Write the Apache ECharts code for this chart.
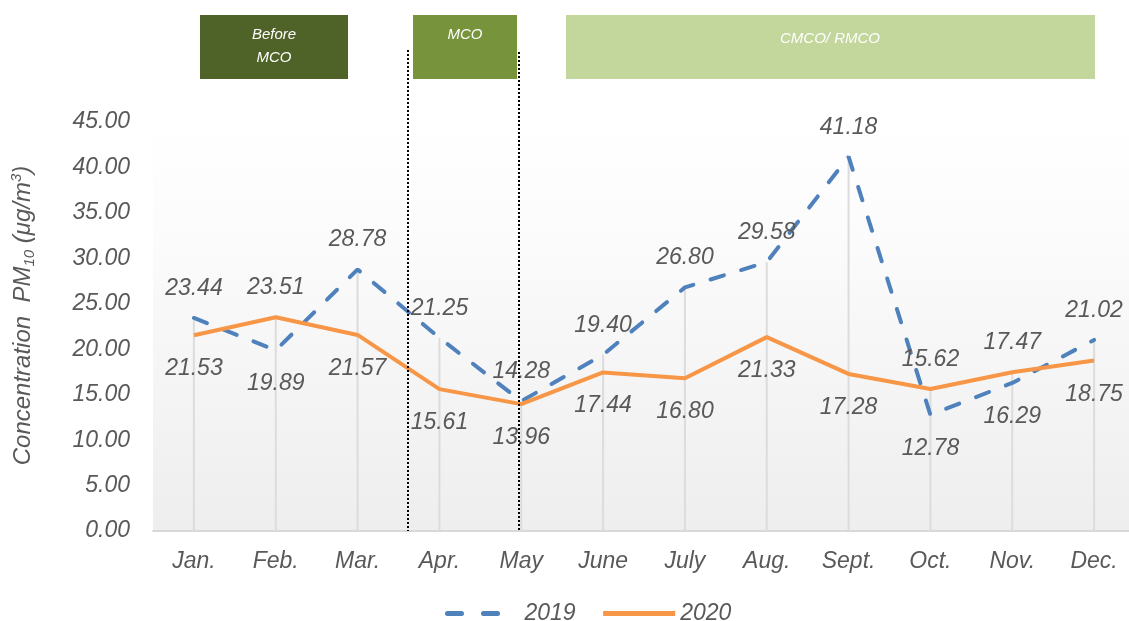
<!DOCTYPE html>
<html>
<head>
<meta charset="utf-8">
<script src="https://cdn.jsdelivr.net/npm/echarts@6/dist/echarts.min.js"></script>
<style>
  html, body { margin: 0; padding: 0; background: #fff; }
  #chart { width: 1129px; height: 621px; }
</style>
</head>
<body>
<div id="chart"></div>
<script>
// months on the x axis
const months = ["Jan.", "Feb.", "Mar.", "Apr.", "May", "June", "July", "Aug.", "Sept.", "Oct.", "Nov.", "Dec."];
// PM10 monthly concentration
const pm2019 = [23.44, 19.89, 28.78, 21.25, 14.28, 19.40, 26.80, 29.58, 41.18, 12.78, 16.29, 21.02];
const pm2020 = [21.53, 23.51, 21.57, 15.61, 13.96, 17.44, 16.80, 21.33, 17.28, 15.62, 17.47, 18.75];
// where each data label sits (higher one on top)
const pos2019 = ["top", "bottom", "top", "top", "top", "top", "top", "top", "top", "bottom", "bottom", "top"];
const pos2020 = ["bottom", "top", "bottom", "bottom", "bottom", "bottom", "bottom", "bottom", "bottom", "top", "top", "bottom"];
// period boxes at the top
const periods = ["Before\nMCO", "MCO", "CMCO/ RMCO"];

const txt = "#595959";
const fnt = "Liberation Sans";

function labelled(vals, pos) {
  return vals.map(function (v, i) {
    return {
      value: v,
      label: { position: pos[i], distance: pos[i] == "top" ? 18 : 22 }
    };
  });
}

// drop lines go from the higher of the two points down to zero
const dropLines = pm2019.map(function (v, i) { return Math.max(v, pm2020[i]); });

let myChart = echarts.init(document.getElementById("chart"));

const boxText = { fill: "#fff", fontSize: 15, fontStyle: "italic", fontFamily: fnt, align: "center", verticalAlign: "top", lineHeight: 23 };

const dataLabel = {
  show: true,
  color: txt,
  fontSize: 23,
  fontStyle: "italic",
  formatter: function (p) { return p.value.toFixed(2); }
};

myChart.setOption({
  animation: false,
  textStyle: { fontFamily: fnt },
  grid: {
    left: 153,
    top: 122,
    width: 982,
    height: 409,
    outerBoundsMode: "none",
    show: true,
    borderWidth: 0,
    backgroundColor: new echarts.graphic.LinearGradient(0, 0, 0, 1, [
      { offset: 0, color: "#ffffff" },
      { offset: 0.3, color: "#fbfbfb" },
      { offset: 1, color: "#eeeeee" }
    ])
  },
  legend: {
    data: [
      { name: "2019", lineStyle: { type: [14, 22] } },
      { name: "2020" }
    ],
    top: 597,
    left: 440,
    itemWidth: 72,
    itemHeight: 10,
    itemGap: 25,
    itemStyle: { opacity: 0 },
    lineStyle: { width: 5 },
    textStyle: { color: txt, fontSize: 23, fontStyle: "italic", fontFamily: fnt }
  },
  xAxis: {
    type: "category",
    data: months,
    boundaryGap: true,
    axisLine: { lineStyle: { color: "#d9d9d9", width: 2 } },
    axisTick: { show: false },
    axisLabel: { color: txt, fontSize: 23, fontStyle: "italic", margin: 19, interval: 0 }
  },
  yAxis: {
    type: "value",
    min: 0,
    max: 45,
    interval: 5,
    name: "{a|Concentration  PM}{sub|10}{a| (μg/m}{sup|3}{a|)}",
    nameLocation: "middle",
    nameRotate: 90,
    nameGap: 116,
    nameTextStyle: {
      color: txt,
      padding: [0, 0, 0, 22],
      rich: {
        a: { fontSize: 24, fontStyle: "italic", color: txt, lineHeight: 28, verticalAlign: "middle" },
        sub: { fontSize: 15, fontStyle: "italic", color: txt, lineHeight: 28, verticalAlign: "bottom", padding: [10, 0, 0, 0] },
        sup: { fontSize: 15, fontStyle: "italic", color: txt, lineHeight: 28, verticalAlign: "top", padding: [0, 0, 8, 0] }
      }
    },
    axisLine: { show: false },
    axisTick: { show: false },
    splitLine: { show: false },
    axisLabel: {
      color: txt,
      fontSize: 23,
      fontStyle: "italic",
      margin: 23,
      formatter: function (v) { return v.toFixed(2); }
    }
  },
  series: [
    {
      name: "drop",
      type: "bar",
      data: dropLines,
      barWidth: 2,
      silent: true,
      itemStyle: { color: "#dcdcdc" },
      z: 1
    },
    {
      name: "2019",
      type: "line",
      data: labelled(pm2019, pos2019),
      symbol: "circle",
      symbolSize: 0.1,
      lineStyle: { color: "#4f81bd", width: 4, type: [14, 18], cap: "round" },
      itemStyle: { color: "#4f81bd" },
      label: dataLabel,
      z: 3
    },
    {
      name: "2020",
      type: "line",
      data: labelled(pm2020, pos2020),
      symbol: "circle",
      symbolSize: 0.1,
      lineStyle: { color: "#f79646", width: 4 },
      itemStyle: { color: "#f79646" },
      label: dataLabel,
      z: 4
    }
  ],
  graphic: [
    // lockdown boundaries
    { type: "line", shape: { x1: 408, y1: 50, x2: 408, y2: 531 }, style: { stroke: "#000", lineWidth: 2, lineDash: [2, 2] }, z: 10 },
    { type: "line", shape: { x1: 519, y1: 52, x2: 519, y2: 531 }, style: { stroke: "#000", lineWidth: 2, lineDash: [2, 2] }, z: 10 },
    { type: "rect", shape: { x: 200, y: 15, width: 148, height: 64 }, style: { fill: "#4f6228" } },
    { type: "text", x: 274, y: 23, style: Object.assign({ text: periods[0] }, boxText) },
    { type: "rect", shape: { x: 413, y: 15, width: 104, height: 64 }, style: { fill: "#77933c" } },
    { type: "text", x: 465, y: 23, style: Object.assign({ text: periods[1] }, boxText) },
    { type: "rect", shape: { x: 566, y: 15, width: 529, height: 64 }, style: { fill: "#c3d69b" } },
    { type: "text", x: 830, y: 27, style: Object.assign({ text: periods[2] }, boxText) }
  ]
});
</script>
</body>
</html>
